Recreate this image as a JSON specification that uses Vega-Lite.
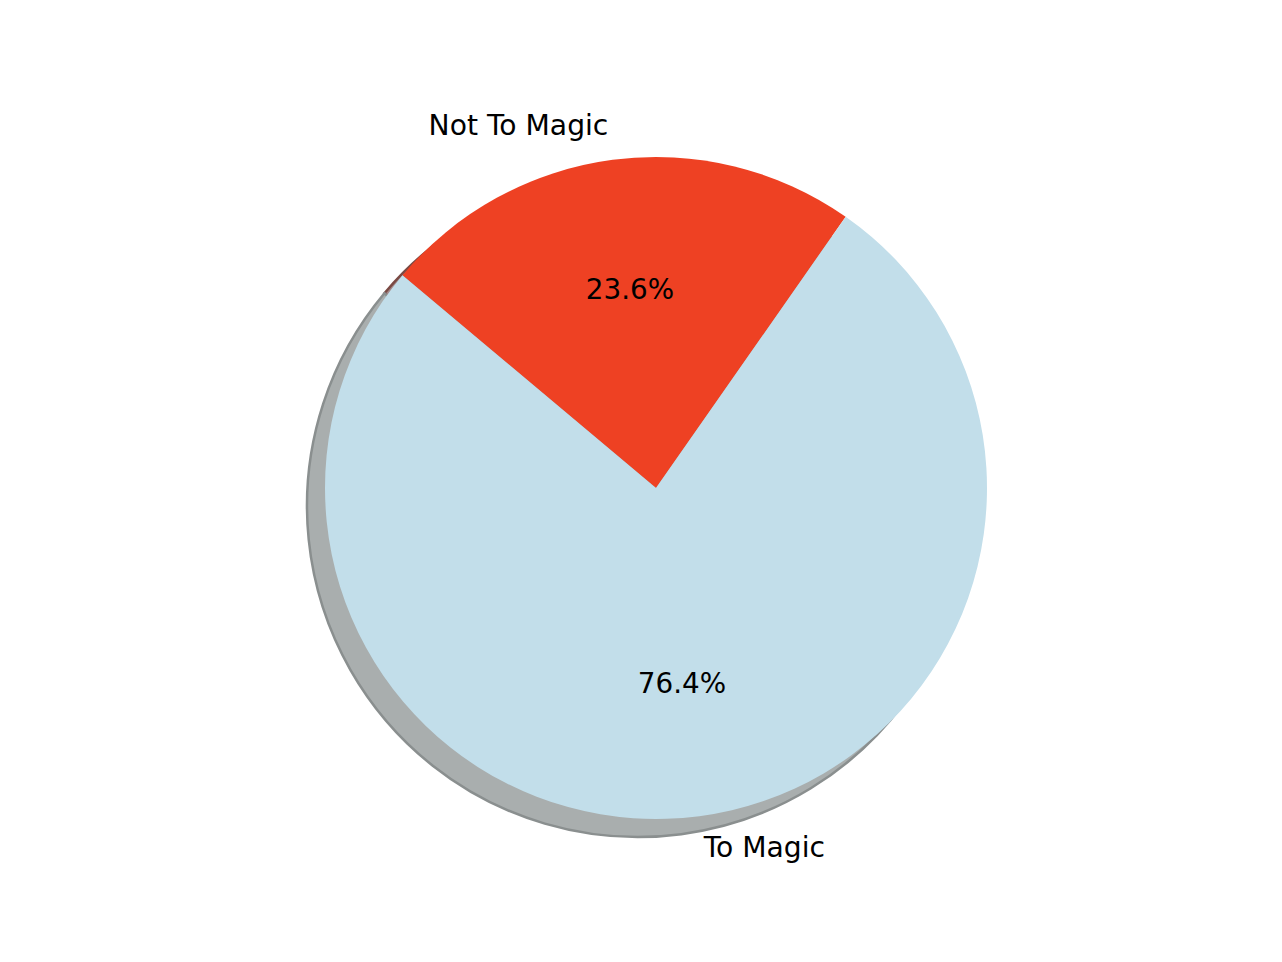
{
  "$schema": "https://vega.github.io/schema/vega-lite/v6.json",
  "width": 1252,
  "height": 948,
  "padding": {"left": 30, "top": 14, "right": 0, "bottom": 0},
  "autosize": {"type": "none"},
  "background": "#ffffff",
  "config": {"view": {"stroke": null}, "font": "DejaVu Sans"},
  "data": {"values": [
    {"cat": "Not To Magic", "value": 23.6, "pct": "23.6%"},
    {"cat": "To Magic", "value": 76.4, "pct": "76.4%"}
  ]},
  "encoding": {
    "theta": {"field": "value", "type": "quantitative", "stack": true,
      "scale": {"domain": [0, 100], "range": [-0.87266, 5.41052]}},
    "order": {"field": "cat", "sort": "ascending"}
  },
  "layer": [
    {
      "mark": {"type": "arc", "outerRadius": 331, "xOffset": -18, "yOffset": 18, "strokeWidth": 2.5},
      "encoding": {
        "fill": {"condition": {"test": "datum.cat == 'Not To Magic'", "value": "#a3898a"}, "value": "#a9aeae"},
        "stroke": {"condition": {"test": "datum.cat == 'Not To Magic'", "value": "#7a4a44"}, "value": "#8a8f8f"}
      }
    },
    {
      "mark": {"type": "arc", "outerRadius": 331},
      "encoding": {
        "color": {"field": "cat", "type": "nominal",
          "scale": {"domain": ["Not To Magic", "To Magic"], "range": ["#ee4123", "#c2deea"]},
          "legend": null}
      }
    },
    {
      "mark": {"type": "text", "radius": 364, "align": "right", "baseline": "middle", "fontSize": 28.2, "font": "DejaVu Sans", "color": "#000000"},
      "encoding": {
        "text": {"condition": {"test": "datum.cat == 'Not To Magic'", "field": "cat"}, "value": ""}
      }
    },
    {
      "mark": {"type": "text", "radius": 364, "align": "left", "baseline": "middle", "fontSize": 28.2, "font": "DejaVu Sans", "color": "#000000"},
      "encoding": {
        "text": {"condition": {"test": "datum.cat == 'To Magic'", "field": "cat"}, "value": ""}
      }
    },
    {
      "mark": {"type": "text", "radius": 198.6, "align": "center", "baseline": "middle", "fontSize": 27.8, "font": "DejaVu Sans", "color": "#000000"},
      "encoding": {
        "text": {"field": "pct", "type": "nominal"}
      }
    }
  ]
}
